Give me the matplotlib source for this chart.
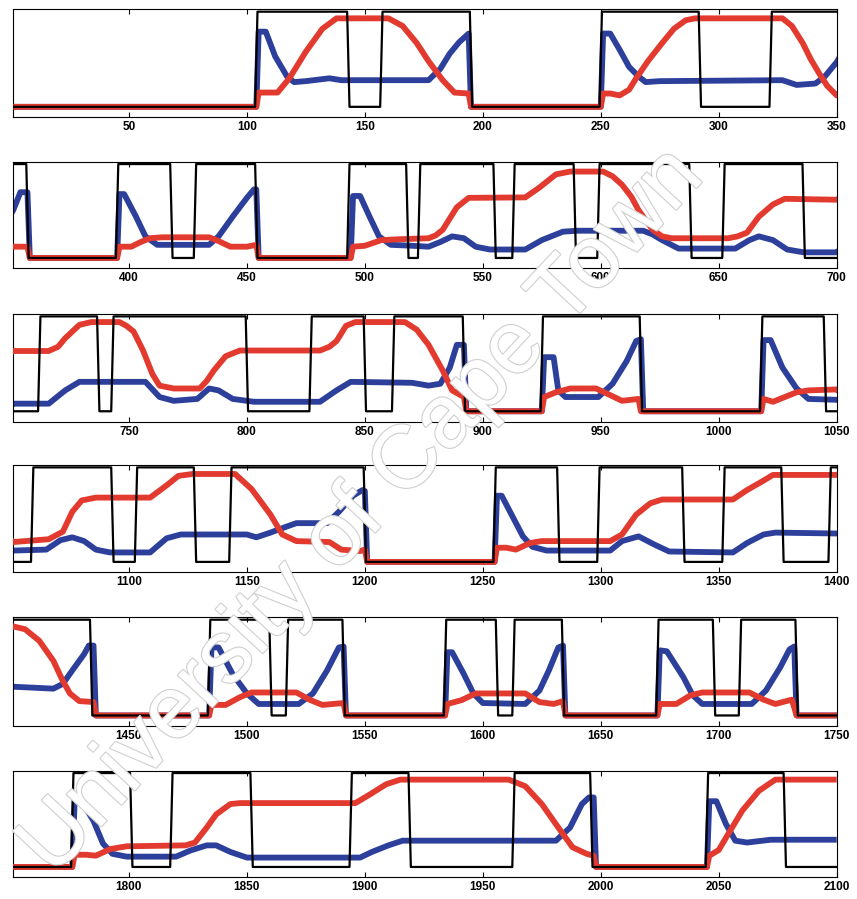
import numpy as np
import matplotlib
matplotlib.use("Agg")
import matplotlib.pyplot as plt
import matplotlib.patheffects as pe

# ---------------- data ----------------
# black binary signal: time of each switch (starts at 0 at t=1, alternates)
black_switch = [104, 143, 157, 195, 250, 292, 322, 357, 395, 418, 428, 454, 493,
                518, 523, 555, 563, 589, 599, 638, 652, 686, 712, 737, 743, 800,
                827, 850, 862, 892, 925, 967, 1018, 1045, 1059, 1093, 1103, 1128,
                1143, 1200, 1255, 1282, 1299, 1335, 1352, 1377, 1397, 1434, 1484,
                1510, 1517, 1541, 1584, 1606, 1613, 1634, 1674, 1698, 1709, 1733,
                1776, 1801, 1818, 1852, 1894, 1919, 1963, 1996, 2045, 2078]

red_t = [1, 104, 105, 113, 118, 125, 132, 138, 160, 166, 172, 177, 183, 188, 194, 195,
         250, 251, 254, 258, 262, 265, 270, 276, 281, 286, 290, 327, 331, 335.6, 339,
         342.6, 346, 350,
         351, 357, 358, 395, 396, 401, 405, 409, 414, 434, 438, 443, 450, 454, 455, 494,
         495, 500, 507, 515, 527, 530, 533, 536, 539, 544, 568, 574, 581, 587, 601, 605,
         609, 613, 616, 622, 626, 630, 654, 658, 662, 667, 673, 678, 700,
         701, 716, 720, 723, 729, 734, 746, 749, 752, 756, 760, 763, 769, 780, 783, 786,
         791, 797, 831, 835, 838, 842, 846, 867, 872, 877, 883, 887, 892, 893, 925, 926,
         931, 937, 948, 954, 959, 966, 967, 1018, 1019, 1023, 1028, 1033, 1038, 1050,
         1051, 1066, 1072, 1076, 1080, 1086, 1109, 1116, 1121, 1127, 1145, 1152, 1160,
         1165, 1171, 1185, 1190, 1198, 1200, 1201, 1255, 1256, 1260, 1264, 1270, 1275,
         1304, 1309, 1315, 1321, 1326, 1356, 1362, 1369, 1373, 1400,
         1401, 1406, 1412, 1418, 1422, 1425, 1429, 1435, 1436, 1484, 1485, 1491, 1497,
         1502, 1521, 1527, 1532, 1541, 1542, 1584, 1585, 1591, 1597, 1618, 1624, 1630,
         1634, 1635, 1674, 1675, 1682, 1688, 1693, 1713, 1719, 1724, 1731, 1733, 1750,
         1751, 1776, 1777, 1782, 1786, 1792, 1799, 1824, 1828, 1833, 1837, 1843, 1847,
         1896, 1902, 1909, 1915, 1961, 1968, 1975, 1982, 1988, 1994, 1997, 1998, 2045,
         2046, 2050, 2054, 2060, 2067, 2074, 2100]
red_v = [0, 0, 0.15, 0.15, 0.30, 0.58, 0.82, 0.93, 0.93, 0.85, 0.67, 0.48, 0.28, 0.15, 0.14, 0,
         0, 0.14, 0.14, 0.12, 0.18, 0.30, 0.48, 0.67, 0.82, 0.91, 0.93, 0.93, 0.85, 0.67, 0.50,
         0.35, 0.22, 0.12,
         0.12, 0.12, 0, 0, 0.12, 0.12, 0.17, 0.21, 0.22, 0.22, 0.18, 0.12, 0.12, 0.14, 0, 0,
         0.12, 0.13, 0.19, 0.20, 0.21, 0.24, 0.30, 0.42, 0.54, 0.64, 0.645, 0.75, 0.89, 0.92, 0.92, 0.87,
         0.78, 0.65, 0.51, 0.30, 0.23, 0.21, 0.21, 0.23, 0.27, 0.44, 0.57, 0.63, 0.62,
         0.635, 0.635, 0.68, 0.77, 0.91, 0.94, 0.94, 0.90, 0.84, 0.64, 0.39, 0.27, 0.24, 0.24, 0.32, 0.43,
         0.58, 0.64, 0.64, 0.68, 0.74, 0.90, 0.94, 0.94, 0.86, 0.70, 0.43, 0.22, 0.15, 0, 0, 0.15,
         0.20, 0.24, 0.24, 0.17, 0.11, 0.13, 0, 0, 0.13, 0.10, 0.15, 0.20, 0.22, 0.23,
         0.21, 0.24, 0.32, 0.53, 0.65, 0.68, 0.68, 0.81, 0.91, 0.93, 0.93, 0.77, 0.50,
         0.29, 0.22, 0.21, 0.13, 0.115, 0.13, 0, 0, 0.15, 0.15, 0.13, 0.20, 0.22,
         0.22, 0.29, 0.50, 0.62, 0.66, 0.66, 0.76, 0.86, 0.92, 0.92,
         0.93, 0.90, 0.78, 0.57, 0.36, 0.23, 0.15, 0.14, 0, 0, 0.11, 0.11, 0.19,
         0.24, 0.24, 0.16, 0.11, 0.13, 0, 0, 0.12, 0.16, 0.23, 0.23, 0.14, 0.12,
         0.15, 0, 0, 0.12, 0.12, 0.21, 0.24, 0.24, 0.165, 0.12, 0.165, 0, 0,
         0, 0, 0.13, 0.13, 0.12, 0.19, 0.22, 0.23, 0.26, 0.42, 0.56, 0.67, 0.68,
         0.68, 0.77, 0.88, 0.93, 0.93, 0.86, 0.67, 0.42, 0.21, 0.14, 0.12, 0, 0,
         0.12, 0.18, 0.35, 0.60, 0.81, 0.93, 0.93]

blue_t = [1, 104, 105, 108, 112, 117, 120, 125, 135, 140, 177, 182, 186, 190, 194, 195,
          250, 251, 254, 258, 262, 266, 269, 275, 327, 333, 341, 345, 350,
          351, 354, 357, 358, 395, 396, 398, 403, 407, 412, 434, 438, 444, 450, 453, 454,
          455, 494, 495, 498, 502, 506, 511, 520, 527, 532, 537, 542, 547, 553, 568, 575,
          584, 590, 618, 622, 626, 633, 657, 663, 667, 673, 679, 686, 700,
          701, 716, 723, 729, 757, 763, 769, 779, 784, 788, 794, 803, 831, 838, 844, 870,
          877, 882, 886, 889, 892, 893, 925, 926, 930, 932, 935, 949, 955, 961, 965, 967,
          968, 1018, 1019, 1022, 1027, 1033, 1038, 1050,
          1051, 1065, 1071, 1076, 1081, 1086, 1092, 1109, 1116, 1122, 1150, 1154, 1160,
          1167, 1171, 1184, 1189, 1195, 1199, 1200, 1201, 1255, 1256, 1258, 1263, 1267,
          1271, 1277, 1304, 1309, 1316, 1323, 1329, 1356, 1362, 1369, 1374, 1400,
          1401, 1418, 1422, 1426, 1431, 1433, 1435, 1436, 1484, 1485, 1488, 1494, 1500,
          1505, 1522, 1528, 1534, 1539, 1541, 1542, 1584, 1585, 1587, 1592, 1596, 1600,
          1618, 1624, 1628, 1632, 1634, 1635, 1674, 1675, 1678, 1685, 1689, 1693, 1714,
          1720, 1726, 1730, 1732, 1733, 1750,
          1751, 1776, 1777, 1780, 1785, 1789, 1793, 1799, 1820, 1826, 1833, 1837, 1843,
          1850, 1898, 1903, 1910, 1916, 1981, 1987, 1992, 1995, 1997, 1998, 2045, 2046,
          2049, 2053, 2057, 2062, 2072, 2100]
blue_v = [0, 0, 0.79, 0.79, 0.53, 0.32, 0.26, 0.27, 0.30, 0.28, 0.28, 0.40, 0.56, 0.68, 0.77, 0,
          0, 0.77, 0.77, 0.60, 0.42, 0.32, 0.26, 0.27, 0.28, 0.23, 0.245, 0.32, 0.47,
          0.51, 0.70, 0.70, 0, 0, 0.68, 0.68, 0.44, 0.23, 0.14, 0.14, 0.23, 0.44, 0.64, 0.73, 0.73,
          0, 0, 0.66, 0.66, 0.44, 0.23, 0.14, 0.13, 0.12, 0.17, 0.23, 0.21, 0.12, 0.09, 0.09, 0.19,
          0.28, 0.29, 0.29, 0.25, 0.19, 0.10, 0.10, 0.19, 0.23, 0.19, 0.09, 0.06, 0.06,
          0.08, 0.08, 0.22, 0.31, 0.31, 0.15, 0.11, 0.13, 0.24, 0.22, 0.13, 0.10, 0.10, 0.22, 0.31, 0.30,
          0.27, 0.29, 0.46, 0.70, 0.70, 0, 0, 0.57, 0.57, 0.22, 0.15, 0.15, 0.29, 0.53, 0.74, 0.76,
          0, 0, 0.75, 0.75, 0.46, 0.24, 0.13, 0.12,
          0.12, 0.13, 0.23, 0.26, 0.22, 0.13, 0.10, 0.10, 0.25, 0.29, 0.29, 0.26, 0.31,
          0.375, 0.41, 0.41, 0.53, 0.70, 0.76, 0.75, 0, 0, 0.70, 0.70, 0.46, 0.27,
          0.16, 0.12, 0.12, 0.22, 0.27, 0.18, 0.11, 0.10, 0.20, 0.29, 0.31, 0.30,
          0.30, 0.28, 0.33, 0.47, 0.64, 0.73, 0.73, 0, 0, 0.71, 0.71, 0.43, 0.23,
          0.12, 0.12, 0.23, 0.47, 0.71, 0.72, 0, 0, 0.66, 0.66, 0.43, 0.23, 0.13,
          0.12, 0.26, 0.47, 0.71, 0.73, 0, 0, 0.68, 0.67, 0.40, 0.21, 0.12, 0.12,
          0.26, 0.50, 0.69, 0.72, 0, 0,
          0, 0, 0.70, 0.70, 0.49, 0.25, 0.14, 0.11, 0.11, 0.175, 0.23, 0.23, 0.16,
          0.10, 0.10, 0.16, 0.23, 0.28, 0.28, 0.42, 0.67, 0.74, 0.74, 0, 0, 0.70,
          0.70, 0.46, 0.28, 0.26, 0.29, 0.29]

panel_ranges = [(1, 350), (351, 700), (701, 1050), (1051, 1400), (1401, 1750), (1751, 2100)]

# ---------------- build black corner path from switches ----------------
bx, by = [1], [0]
level = 0
for s in black_switch:
    bx += [s - 0.5, s + 0.5]
    by += [level, 1 - level]
    level = 1 - level
bx.append(2100)
by.append(level)

RED = "#e23a2e"
BLUE = "#2c3f9a"

W, H = 857, 899
fig = plt.figure(figsize=(W / 100, H / 100), dpi=100)
fig.patch.set_facecolor("white")

# watermark (behind the data)
fig.text(0.423, 0.43, "University of Cape Town", rotation=47, ha="center", va="center",
         fontsize=64, family="Liberation Sans", color="white", zorder=0,
         path_effects=[pe.Stroke(linewidth=1.6, foreground="#cfcfcf"), pe.Normal()])

tops = [9.3, 161.7, 314.0, 465.0, 617.3, 770.7]
bots = [117.3, 268.3, 421.7, 572.3, 726.0, 877.3]
left, right = 13.3, 836.7

for i, (x0, x1) in enumerate(panel_ranges):
    ax = fig.add_axes([left / W, 1 - bots[i] / H, (right - left) / W, (bots[i] - tops[i]) / H])
    ax.set_facecolor("none")
    ax.plot(blue_t, blue_v, color=BLUE, lw=4.2, solid_capstyle="butt", zorder=2)
    ax.plot(red_t, red_v, color=RED, lw=4.2, solid_capstyle="butt", zorder=3)
    ax.plot(bx, by, color="black", lw=1.6, zorder=4)
    ax.set_xlim(x0, x1)
    ax.set_ylim(-0.11, 1.025)
    ax.set_yticks([])
    ticks = [t for t in range(50, 2101, 50) if x0 <= t <= x1]
    ax.set_xticks(ticks)
    ax.set_xticklabels([str(t) for t in ticks], fontsize=8.5, fontweight="bold",
                       family="Liberation Sans")
    ax.tick_params(axis="x", direction="in", top=True, length=3.5, width=0.8, pad=3)
    for sp in ax.spines.values():
        sp.set_linewidth(0.8)

fig.savefig("out.png", dpi=100, facecolor="white")
